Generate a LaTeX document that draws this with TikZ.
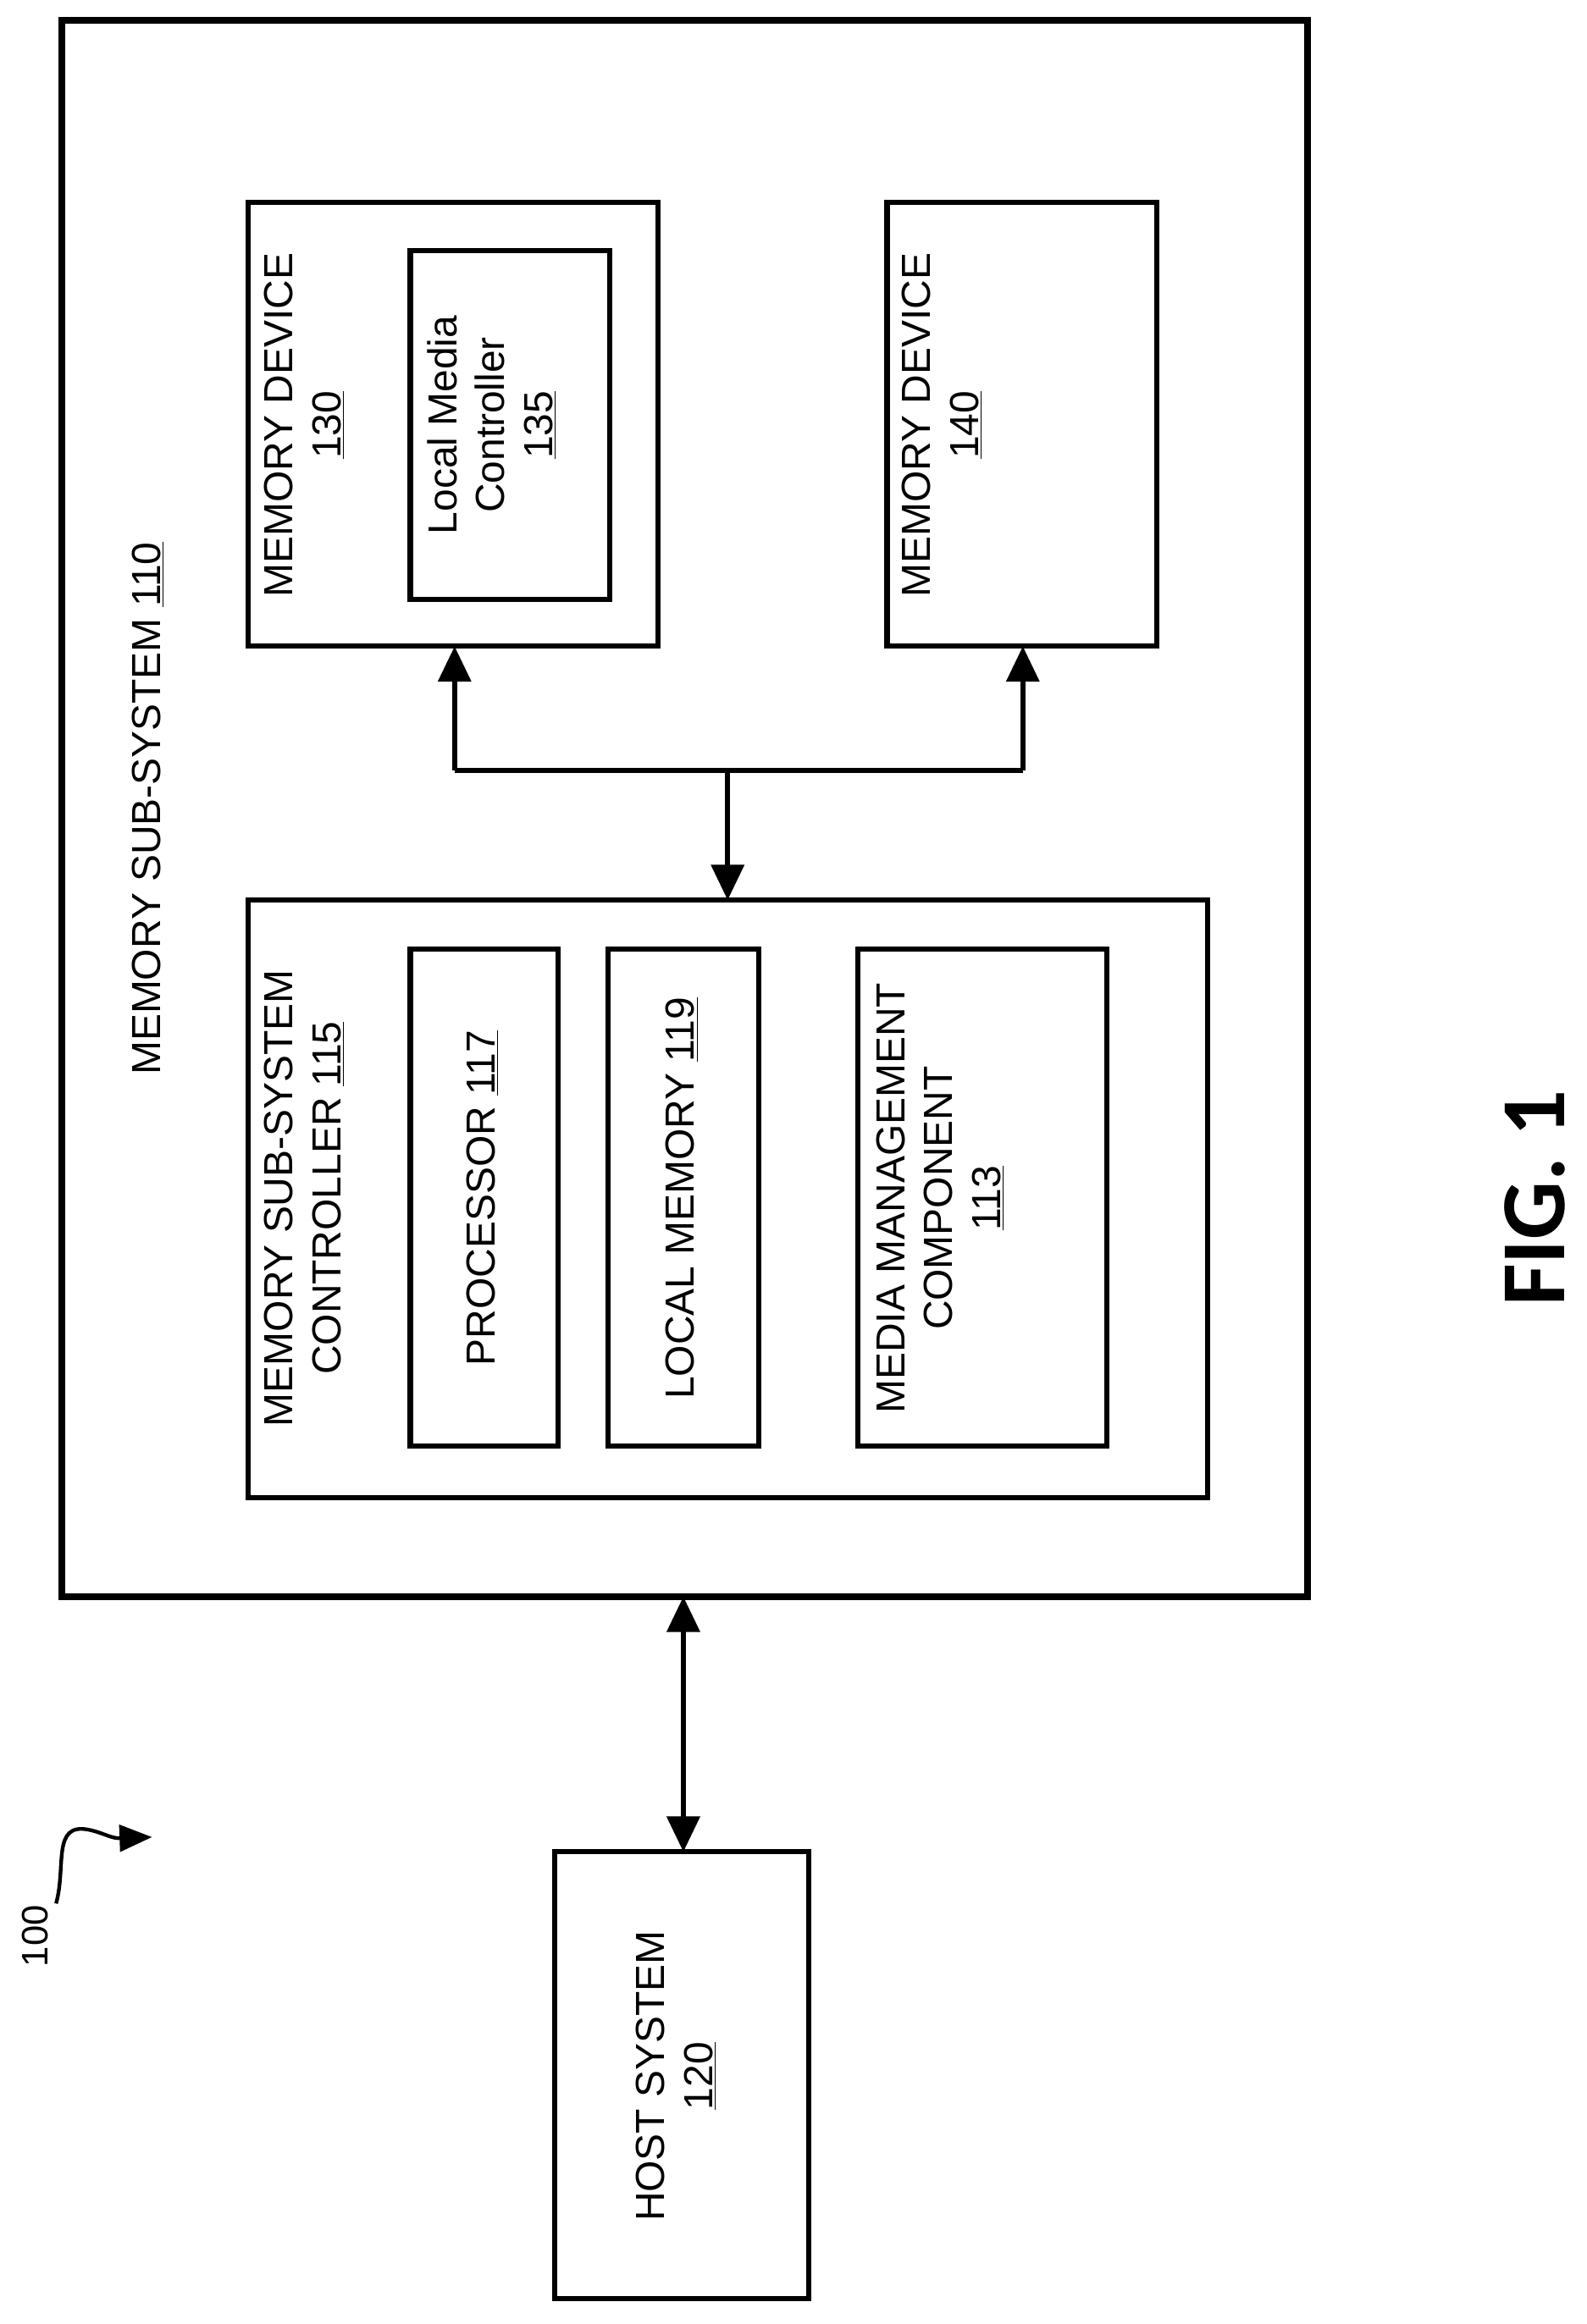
\documentclass[tikz,border=0pt]{standalone}
\usepackage{fontspec}
\setmainfont{Liberation Sans}
\newfontfamily\figfont{Carlito}
\usetikzlibrary{arrows.meta}
\begin{document}
\begin{tikzpicture}[x=1pt,y=-1pt,
  box/.style={draw,line width=3.5pt},
  txt/.style={rotate=90,align=center,font=\fontsize{27.5}{32.5}\selectfont,inner sep=0pt},
  arr/.style={line width=3.5pt,-{Triangle[length=24pt,width=22pt]}},
  darr/.style={line width=3.5pt,{Triangle[length=24pt,width=22pt]}-{Triangle[length=24pt,width=22pt]}}]
\useasboundingbox (0,0) rectangle (1075,1575);
\draw[box,line width=4.5pt] (42,14) rectangle (886,1082);
\node[txt] (l110) at (100,548) {MEMORY SUB-SYSTEM \underline{110}};
\draw[box] (168,137) rectangle (446,438);
\coordinate (m130) at (308,438);
\node[txt] (t130) at (206,288) {MEMORY DEVICE\\\underline{130}};
\draw[box] (278,170) rectangle (413,406);
\node[txt] (t135) at (333,288) {Local Media\\Controller\\\underline{135}};
\draw[box] (601,137) rectangle (784,438);
\coordinate (m140) at (693,438);
\node[txt] (t140) at (638,288) {MEMORY DEVICE\\\underline{140}};
\draw[box] (168,610) rectangle (818,1015);
\coordinate (c115) at (493,610);
\node[txt] (t115) at (206,812) {MEMORY SUB-SYSTEM\\CONTROLLER \underline{115}};
\draw[box] (278,643) rectangle (378,980);
\node[txt] (t117) at (327,812) {PROCESSOR \underline{117}};
\draw[box] (412,643) rectangle (514,980);
\node[txt] (t119) at (462,812) {LOCAL MEMORY \underline{119}};
\draw[box] (581,643) rectangle (750,980);
\node[txt] (t113) at (637,812) {MEDIA MANAGEMENT\\COMPONENT\\\underline{113}};
\draw[box] (376,1255) rectangle (548,1558);
\node[txt] (t120) at (458,1407) {HOST SYSTEM\\\underline{120}};
\coordinate (b1) at (308,522);
\coordinate (b2) at (693,522);
\coordinate (bm) at (493,522);
\draw[line width=3.5pt] (b1) -- (b2);
\draw[arr] (b1) -- (m130);
\draw[arr] (b2) -- (m140);
\draw[arr] (bm) -- (c115);
\coordinate (o1) at (463,1082);
\coordinate (h1) at (463,1255);
\draw[darr] (h1) -- (o1);
\node[rotate=90,font=\fontsize{25}{28}\selectfont] (l100) at (24,1312) {100};
\coordinate (s0) at (38,1290);
\coordinate (s1) at (103,1245);
\draw[line width=2.5pt,-{Triangle[length=22pt,width=18pt]}] (s0) .. controls (45,1265) and (35,1235) .. (60,1240) .. controls (70,1242) and (75,1246) .. (s1);
\node[rotate=90,font=\figfont\bfseries\fontsize{62}{70}\selectfont] (fig) at (1040,812) {FIG. 1};
\end{tikzpicture}
\end{document}
